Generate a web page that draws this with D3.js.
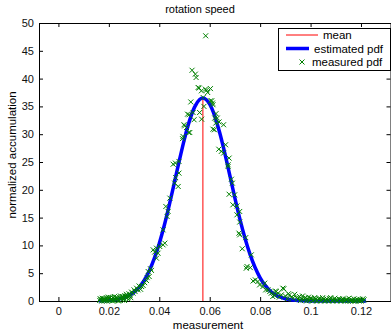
<!DOCTYPE html>
<html>
<head>
<meta charset="utf-8">
<script src="https://cdn.jsdelivr.net/npm/d3@7"></script>
<style>
  body { margin: 0; background: #fff; }
  svg text { font-family: "Liberation Sans", Arial, sans-serif; }
</style>
</head>
<body>
<div id="chart"></div>
<script>
// estimated pdf
const pdfX = [0.016, 0.018, 0.020, 0.022, 0.024, 0.026, 0.028, 0.030, 0.032, 0.034, 0.036, 0.038,
  0.040, 0.042, 0.044, 0.046, 0.048, 0.050, 0.052, 0.054, 0.056, 0.0573, 0.058, 0.060, 0.062, 0.064,
  0.066, 0.068, 0.070, 0.072, 0.074, 0.076, 0.078, 0.080, 0.082, 0.084, 0.086, 0.088, 0.090, 0.092,
  0.094, 0.096, 0.098, 0.100, 0.104, 0.110, 0.116, 0.122];
const pdfY = [0.03, 0.06, 0.10, 0.19, 0.34, 0.59, 0.99, 1.59, 2.47, 3.72, 5.41, 7.61,
  10.36, 13.63, 17.35, 21.32, 25.36, 29.17, 32.44, 34.87, 36.24, 36.5, 36.42, 35.40, 33.26, 30.21,
  26.55, 22.54, 18.51, 14.69, 11.29, 8.38, 6.02, 4.17, 2.80, 1.81, 1.14, 0.69, 0.41, 0.23,
  0.13, 0.07, 0.03, 0.015, 0.003, 0, 0, 0];

const meanX = 0.0573;
const meanY = 36.5;

// measured pdf points [measurement, value]
const measured = [
  [0.0164,0.1],[0.0166,0.4],[0.0168,0.3],[0.0172,0.0],[0.0174,0.5],[0.0176,0.2],[0.0180,0.4],[0.0182,0.0],
  [0.0184,0.1],[0.0188,0.3],[0.0190,0.6],[0.0192,0.0],[0.0196,0.2],[0.0198,0.7],[0.0200,0.5],[0.0204,0.1],
  [0.0206,0.6],[0.0208,0.3],[0.0212,0.2],[0.0214,0.0],[0.0216,0.6],[0.0220,0.1],[0.0222,0.8],[0.0224,0.4],
  [0.0228,0.2],[0.0230,0.7],[0.0232,0.5],[0.0236,0.3],[0.0238,0.0],[0.0240,0.1],[0.0244,0.6],[0.0246,0.9],
  [0.0248,0.4],[0.0252,0.2],[0.0254,0.8],[0.0256,0.7],[0.0260,0.4],[0.0262,0.1],[0.0264,0.9],[0.0268,0.6],
  [0.0270,1.2],[0.0272,1.0],[0.0276,0.7],[0.0278,0.3],[0.0280,1.3],[0.0284,1.0],[0.0287,0.6],[0.0290,1.6],
  [0.0296,1.4],[0.0300,2.0],[0.0304,1.7],[0.0310,2.3],[0.0316,2.0],[0.0320,2.7],[0.0326,2.1],[0.0330,2.6],
  [0.0336,2.8],[0.0342,3.3],[0.0349,3.7],[0.0352,4.2],[0.0356,5.3],[0.0360,4.4],[0.0365,5.8],[0.0369,5.5],
  [0.0376,9.2],[0.0382,8.8],[0.0389,7.7],[0.0389,9.5],[0.0395,8.6],[0.0402,9.8],[0.0415,10.1],[0.0415,12.8],
  [0.0422,10.4],[0.0426,17.0],[0.0431,15.2],[0.0435,16.1],[0.0442,18.5],[0.0461,21.2],[0.0465,22.2],[0.0475,20.6],
  [0.0478,23.0],[0.0455,24.6],[0.0464,24.8],[0.0478,25.1],[0.0492,29.2],[0.0494,29.6],[0.0498,31.7],[0.0501,31.5],
  [0.0508,31.2],[0.0512,33.6],[0.0517,30.3],[0.0518,33.5],[0.0521,30.3],[0.0525,35.8],[0.0530,41.5],[0.0534,33.9],
  [0.0538,32.6],[0.0543,40.8],[0.0546,40.2],[0.0554,38.4],[0.0558,38.3],[0.0560,33.9],[0.0567,37.8],[0.0568,32.7],
  [0.0574,36.6],[0.0577,35.0],[0.0583,38.1],[0.0584,47.7],[0.0587,37.9],[0.0592,37.5],[0.0603,38.2],[0.0603,36.0],
  [0.0608,36.0],[0.0611,35.6],[0.0613,35.3],[0.0613,30.9],[0.0619,30.8],[0.0620,32.9],[0.0624,32.0],[0.0625,33.7],
  [0.0630,32.9],[0.0637,32.2],[0.0646,26.9],[0.0636,27.3],[0.0655,31.7],[0.0655,26.6],[0.0663,28.1],[0.0673,24.5],
  [0.0673,24.2],[0.0677,25.7],[0.0677,19.2],[0.0686,21.9],[0.0690,21.2],[0.0699,19.1],[0.0692,17.3],[0.0708,17.1],
  [0.0719,16.1],[0.0708,15.5],[0.0719,14.2],[0.0716,12.2],[0.0719,11.9],[0.0743,11.4],[0.0729,9.4],[0.0765,8.3],
  [0.0748,6.2],[0.0761,6.0],[0.0745,5.9],[0.0781,3.8],[0.0791,3.5],[0.0772,3.6],[0.0798,2.9],[0.0811,2.6],
  [0.0818,3.2],[0.0822,2.0],[0.0831,2.0],[0.0838,1.7],[0.0844,1.4],[0.0850,0.8],[0.0858,1.0],[0.0861,1.8],
  [0.0864,1.7],[0.0871,1.4],[0.0876,0.7],[0.0884,1.1],[0.0890,2.3],[0.0894,2.2],[0.0900,0.9],[0.0908,0.4],
  [0.0912,1.3],[0.0917,1.1],[0.0924,0.7],[0.0930,0.5],[0.0937,1.2],[0.0945,0.6],[0.0950,0.3],[0.0956,0.8],
  [0.0960,0.1],[0.0964,0.4],[0.0968,0.9],[0.0972,0.2],[0.0976,0.5],[0.0980,0.6],[0.0984,0.0],[0.0988,0.3],
  [0.0992,0.7],[0.0996,0.1],[0.1000,0.5],[0.1004,0.4],[0.1008,0.0],[0.1012,0.2],[0.1016,0.6],[0.1020,0.3],
  [0.1024,0.0],[0.1028,0.1],[0.1032,0.4],[0.1036,0.5],[0.1040,0.0],[0.1044,0.2],[0.1048,0.6],[0.1052,0.3],
  [0.1056,0.0],[0.1060,0.1],[0.1064,0.4],[0.1068,0.2],[0.1072,0.0],[0.1076,0.4],[0.1080,0.6],[0.1084,0.1],
  [0.1088,0.0],[0.1092,0.3],[0.1096,0.5],[0.1100,0.2],[0.1104,0.0],[0.1108,0.1],[0.1112,0.4],[0.1116,0.3],
  [0.1120,0.0],[0.1124,0.2],[0.1128,0.4],[0.1132,0.1],[0.1136,0.0],[0.1140,0.2],[0.1144,0.3],[0.1148,0.0],
  [0.1152,0.5],[0.1156,0.1],[0.1160,0.0],[0.1164,0.2],[0.1168,0.0],[0.1172,0.4],[0.1176,0.0],[0.1180,0.1],
  [0.1184,0.3],[0.1188,0.2],[0.1192,0.0],[0.1196,0.3],[0.1200,0.0],[0.1204,0.1],[0.1208,0.4],[0.1212,0.2]
];

const xTicks = [0, 0.02, 0.04, 0.06, 0.08, 0.1, 0.12];
const yTicks = [0, 5, 10, 15, 20, 25, 30, 35, 40, 45, 50];
const legendLabels = ['mean', 'estimated pdf', 'measured pdf'];

const W = 391, H = 334;
const margin = {top: 23, bottom: 33, left: 39, right: 0.5};

const svg = d3.select('#chart').append('svg').attr('width', W).attr('height', H);

const x = d3.scaleLinear().domain([-0.0077, 0.1317]).range([margin.left, W - margin.right]);
const y = d3.scaleLinear().domain([0, 50]).range([H - margin.bottom, margin.top]);

const fmt = d => d === 0 ? '0' : String(+d.toFixed(2));

// axes (MATLAB style box, inward ticks)
svg.append('g').attr('transform', `translate(0, ${y(0)})`)
  .call(d3.axisBottom(x).tickValues(xTicks).tickFormat(fmt).tickSizeInner(-4).tickSizeOuter(0).tickPadding(6));
svg.append('g').attr('transform', `translate(0, ${y(50)})`)
  .call(d3.axisTop(x).tickValues(xTicks).tickFormat('').tickSizeInner(-4).tickSizeOuter(0));
svg.append('g').attr('transform', `translate(${x.range()[0]}, 0)`)
  .call(d3.axisLeft(y).tickValues(yTicks).tickSizeInner(-4).tickSizeOuter(0).tickPadding(5));
svg.append('g').attr('transform', `translate(${x.range()[1]}, 0)`)
  .call(d3.axisRight(y).tickValues(yTicks).tickFormat('').tickSizeInner(-4).tickSizeOuter(0));

svg.selectAll('.tick text').attr('font-size', 11).attr('fill', '#111')
  .style('font-family', '"Liberation Sans", Arial, sans-serif');
svg.selectAll('.domain').attr('stroke', '#000');
svg.selectAll('.tick line').attr('stroke', '#000');

// mean line
svg.append('line')
  .attr('x1', x(meanX)).attr('x2', x(meanX))
  .attr('y1', y(0)).attr('y2', y(meanY))
  .attr('stroke', '#ff0000').attr('stroke-width', 1);

// estimated pdf
const line = d3.line().x((d, i) => x(pdfX[i])).y(d => y(d)).curve(d3.curveMonotoneX);
svg.append('path').datum(pdfY)
  .attr('d', line)
  .attr('fill', 'none').attr('stroke', '#0000ff').attr('stroke-width', 3.5);

// measured pdf markers
const cross = 'M-2.5,-2.5L2.5,2.5M-2.5,2.5L2.5,-2.5';
svg.append('g').selectAll('path').data(measured).enter().append('path')
  .attr('d', cross)
  .attr('transform', d => `translate(${x(d[0])}, ${y(d[1])})`)
  .attr('fill', 'none').attr('stroke', '#008000').attr('stroke-width', 1);

// title and labels
svg.append('text').attr('x', 200).attr('y', 13).attr('text-anchor', 'middle')
  .attr('font-size', 11).text('rotation speed');
svg.append('text').attr('x', 208).attr('y', 329).attr('text-anchor', 'middle')
  .attr('font-size', 11.5).text('measurement');
svg.append('text').attr('transform', 'translate(16, 155) rotate(-90)').attr('text-anchor', 'middle')
  .attr('font-size', 11.5).text('normalized accumulation');

// legend
const lg = svg.append('g');
lg.append('rect').attr('x', 278.5).attr('y', 28.5).attr('width', 112).attr('height', 42)
  .attr('fill', '#fff').attr('stroke', '#000').attr('stroke-width', 1);
lg.append('line').attr('x1', 286).attr('x2', 318).attr('y1', 35).attr('y2', 35)
  .attr('stroke', '#ff0000').attr('stroke-width', 1);
lg.append('line').attr('x1', 286).attr('x2', 309).attr('y1', 48.5).attr('y2', 48.5)
  .attr('stroke', '#0000ff').attr('stroke-width', 3.5);
lg.append('path').attr('d', cross).attr('transform', 'translate(302, 62)')
  .attr('fill', 'none').attr('stroke', '#008000').attr('stroke-width', 1);
const lgX = [323, 314, 312];
const lgY = [39, 52.5, 66];
lg.selectAll('text.lg').data(legendLabels).enter().append('text')
  .attr('class', 'lg')
  .attr('x', (d, i) => lgX[i]).attr('y', (d, i) => lgY[i])
  .attr('font-size', 11.5).text(d => d);
</script>
</body>
</html>
